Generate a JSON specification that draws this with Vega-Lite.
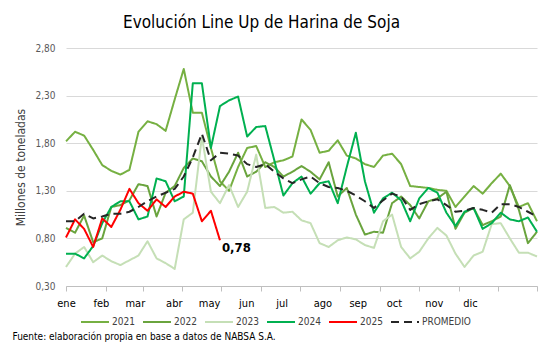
{
  "$schema": "https://vega.github.io/schema/vega-lite/v6.json",
  "width": 471,
  "height": 238,
  "autosize": {"type": "none"},
  "padding": {"left": 66, "top": 48, "right": 17, "bottom": 66},
  "background": "white",
  "config": {
    "font": "DejaVu Sans Condensed, DejaVu Sans, sans-serif",
    "view": {"stroke": null},
    "locale": {"number": {"decimal": ",", "thousands": ".", "grouping": [3], "currency": ["$", ""]}}
  },
  "title": {
    "text": "Evolución Line Up de Harina de Soja",
    "fontSize": 17,
    "fontWeight": "normal",
    "color": "#000000",
    "anchor": "middle",
    "dx": -40,
    "baseline": "bottom",
    "offset": -6
  },
  "data": {
    "values": [
      {"w":1,"2021":1.82,"2022":0.91,"2023":0.50,"2024":0.64,"2025":0.81,"PROMEDIO":0.98},
      {"w":2,"2021":1.92,"2022":0.86,"2023":0.64,"2024":0.64,"2025":1.00,"PROMEDIO":0.98},
      {"w":3,"2021":1.88,"2022":1.04,"2023":0.71,"2024":0.59,"2025":0.90,"PROMEDIO":1.06},
      {"w":4,"2021":1.73,"2022":0.76,"2023":0.55,"2024":0.72,"2025":0.71,"PROMEDIO":1.01},
      {"w":5,"2021":1.57,"2022":0.80,"2023":0.62,"2024":0.96,"2025":1.01,"PROMEDIO":1.03},
      {"w":6,"2021":1.51,"2022":1.13,"2023":0.56,"2024":1.13,"2025":0.92,"PROMEDIO":1.06},
      {"w":7,"2021":1.47,"2022":1.15,"2023":0.52,"2024":1.19,"2025":1.10,"PROMEDIO":1.06},
      {"w":8,"2021":1.52,"2022":1.20,"2023":0.57,"2024":1.19,"2025":1.32,"PROMEDIO":1.08},
      {"w":9,"2021":1.92,"2022":1.37,"2023":0.62,"2024":1.00,"2025":1.17,"PROMEDIO":1.13},
      {"w":10,"2021":2.03,"2022":1.35,"2023":0.77,"2024":1.03,"2025":1.09,"PROMEDIO":1.19},
      {"w":11,"2021":2.00,"2022":1.03,"2023":0.59,"2024":1.43,"2025":1.21,"PROMEDIO":1.24},
      {"w":12,"2021":1.93,"2022":1.28,"2023":0.54,"2024":1.40,"2025":1.13,"PROMEDIO":1.28},
      {"w":13,"2021":2.26,"2022":1.35,"2023":0.48,"2024":1.19,"2025":1.24,"PROMEDIO":1.32},
      {"w":14,"2021":2.58,"2022":1.54,"2023":1.00,"2024":1.24,"2025":1.29,"PROMEDIO":1.45},
      {"w":15,"2021":2.12,"2022":1.64,"2023":1.07,"2024":2.43,"2025":1.27,"PROMEDIO":1.65},
      {"w":16,"2021":2.12,"2022":1.61,"2023":1.87,"2024":2.43,"2025":0.98,"PROMEDIO":1.90},
      {"w":17,"2021":1.75,"2022":1.45,"2023":1.29,"2024":1.75,"2025":1.09,"PROMEDIO":1.62},
      {"w":18,"2021":1.40,"2022":1.35,"2023":1.17,"2024":2.19,"2025":0.78,"PROMEDIO":1.70},
      {"w":19,"2021":1.30,"2022":1.50,"2023":1.36,"2024":2.25,"2025":null,"PROMEDIO":1.69},
      {"w":20,"2021":1.55,"2022":1.70,"2023":1.13,"2024":2.29,"2025":null,"PROMEDIO":1.67},
      {"w":21,"2021":1.75,"2022":1.45,"2023":1.29,"2024":1.87,"2025":null,"PROMEDIO":1.58},
      {"w":22,"2021":1.77,"2022":1.50,"2023":1.68,"2024":1.97,"2025":null,"PROMEDIO":1.55},
      {"w":23,"2021":1.55,"2022":1.60,"2023":1.12,"2024":1.98,"2025":null,"PROMEDIO":1.58},
      {"w":24,"2021":1.60,"2022":1.55,"2023":1.13,"2024":1.62,"2025":null,"PROMEDIO":1.50},
      {"w":25,"2021":1.62,"2022":1.45,"2023":1.07,"2024":1.25,"2025":null,"PROMEDIO":1.43},
      {"w":26,"2021":1.66,"2022":1.50,"2023":1.08,"2024":1.38,"2025":null,"PROMEDIO":1.38},
      {"w":27,"2021":2.05,"2022":1.56,"2023":0.99,"2024":1.45,"2025":null,"PROMEDIO":1.42},
      {"w":28,"2021":1.94,"2022":1.50,"2023":0.96,"2024":1.27,"2025":null,"PROMEDIO":1.45},
      {"w":29,"2021":1.70,"2022":1.42,"2023":0.75,"2024":1.38,"2025":null,"PROMEDIO":1.38},
      {"w":30,"2021":1.72,"2022":1.60,"2023":0.71,"2024":1.40,"2025":null,"PROMEDIO":1.34},
      {"w":31,"2021":1.83,"2022":1.24,"2023":0.78,"2024":1.17,"2025":null,"PROMEDIO":1.33},
      {"w":32,"2021":1.67,"2022":1.33,"2023":0.81,"2024":1.55,"2025":null,"PROMEDIO":1.30},
      {"w":33,"2021":1.64,"2022":1.05,"2023":0.79,"2024":1.91,"2025":null,"PROMEDIO":1.25},
      {"w":34,"2021":1.58,"2022":0.84,"2023":0.73,"2024":1.40,"2025":null,"PROMEDIO":1.19},
      {"w":35,"2021":1.55,"2022":0.87,"2023":0.70,"2024":1.07,"2025":null,"PROMEDIO":1.12},
      {"w":36,"2021":1.67,"2022":0.86,"2023":0.98,"2024":1.22,"2025":null,"PROMEDIO":1.20},
      {"w":37,"2021":1.69,"2022":1.17,"2023":1.05,"2024":1.28,"2025":null,"PROMEDIO":1.27},
      {"w":38,"2021":1.58,"2022":1.24,"2023":0.71,"2024":1.20,"2025":null,"PROMEDIO":1.24},
      {"w":39,"2021":1.35,"2022":1.15,"2023":0.59,"2024":0.98,"2025":null,"PROMEDIO":1.10},
      {"w":40,"2021":1.34,"2022":1.01,"2023":0.66,"2024":1.22,"2025":null,"PROMEDIO":1.16},
      {"w":41,"2021":1.33,"2022":1.19,"2023":0.80,"2024":1.33,"2025":null,"PROMEDIO":1.19},
      {"w":42,"2021":1.31,"2022":1.22,"2023":0.91,"2024":1.28,"2025":null,"PROMEDIO":1.21},
      {"w":43,"2021":1.30,"2022":1.29,"2023":0.83,"2024":1.07,"2025":null,"PROMEDIO":1.15},
      {"w":44,"2021":1.13,"2022":0.90,"2023":0.64,"2024":0.93,"2025":null,"PROMEDIO":1.08},
      {"w":45,"2021":1.24,"2022":1.07,"2023":0.50,"2024":1.08,"2025":null,"PROMEDIO":1.09},
      {"w":46,"2021":1.35,"2022":1.12,"2023":0.62,"2024":1.12,"2025":null,"PROMEDIO":1.12},
      {"w":47,"2021":1.27,"2022":0.94,"2023":0.66,"2024":0.90,"2025":null,"PROMEDIO":1.10},
      {"w":48,"2021":1.38,"2022":0.98,"2023":0.95,"2024":0.96,"2025":null,"PROMEDIO":1.07},
      {"w":49,"2021":1.48,"2022":1.03,"2023":0.96,"2024":1.07,"2025":null,"PROMEDIO":1.16},
      {"w":50,"2021":1.35,"2022":1.36,"2023":0.80,"2024":1.00,"2025":null,"PROMEDIO":1.16},
      {"w":51,"2021":1.13,"2022":1.10,"2023":0.65,"2024":0.98,"2025":null,"PROMEDIO":1.13},
      {"w":52,"2021":1.17,"2022":0.75,"2023":0.65,"2024":1.02,"2025":null,"PROMEDIO":1.08},
      {"w":53,"2021":0.98,"2022":0.87,"2023":0.61,"2024":0.87,"2025":null,"PROMEDIO":1.03}
    ]
  },
  "transform": [
    {"fold": ["2021", "2022", "2023", "2024", "2025", "PROMEDIO"], "as": ["serie", "value"]},
    {"filter": "datum.value != null"}
  ],
  "resolve": {"axis": {"x": "independent"}},
  "layer": [
    {
      "mark": {"type": "line", "strokeCap": "butt", "strokeJoin": "round"},
      "encoding": {
        "x": {
          "field": "w", "type": "quantitative",
          "scale": {"domain": [1, 53], "nice": false, "zero": false},
          "axis": {
            "orient": "bottom",
            "values": [1, 5.4, 9.5, 13.8, 18.1, 22.5, 26.8, 31.2, 35.7, 40, 44.4, 48.7, 53],
            "labels": false, "grid": false,
            "domain": true, "domainColor": "#bfbfbf", "domainWidth": 1,
            "ticks": true, "tickColor": "#bfbfbf", "tickSize": 5, "tickWidth": 1,
            "title": "Fuente: elaboración propia en base a datos de NABSA S.A.",
            "titleFontSize": 10, "titleFontWeight": "normal", "titleColor": "#000000",
            "titleAlign": "left", "titleBaseline": "alphabetic", "titleAnchor": "start",
            "titleX": -54, "titleY": 53
          }
        },
        "y": {
          "field": "value", "type": "quantitative",
          "scale": {"domain": [0.3, 2.8], "nice": false, "zero": false},
          "axis": {
            "values": [0.3, 0.8, 1.3, 1.8, 2.3, 2.8],
            "format": ".2f",
            "grid": true, "gridColor": "#d9d9d9", "gridWidth": 1,
            "domain": false, "ticks": false,
            "labelFontSize": 10, "labelColor": "#595959", "labelPadding": 11,
            "title": "Millones de toneladas",
            "titleFontSize": 12, "titleFontWeight": "normal", "titleColor": "#404040",
            "titlePadding": 7
          }
        },
        "color": {
          "field": "serie", "type": "nominal",
          "scale": {
            "domain": ["2021", "2022", "2023", "2024", "2025", "PROMEDIO"],
            "range": ["#76B042", "#6AA43E", "#C5DFB6", "#00B050", "#FF0000", "#262626"]
          },
          "legend": {
            "orient": "none", "legendX": 14, "legendY": 259,
            "direction": "horizontal", "columns": 6, "title": null,
            "symbolType": "stroke", "symbolSize": 784,
            "labelFontSize": 10, "labelColor": "#404040", "labelOffset": 2,
            "columnPadding": 4, "padding": 0
          }
        },
        "strokeDash": {
          "field": "serie", "type": "nominal",
          "scale": {
            "domain": ["2021", "2022", "2023", "2024", "2025", "PROMEDIO"],
            "range": [[1, 0], [1, 0], [1, 0], [1, 0], [1, 0], [8, 5]]
          }
        },
        "strokeWidth": {
          "field": "serie", "type": "nominal",
          "scale": {
            "domain": ["2021", "2022", "2023", "2024", "2025", "PROMEDIO"],
            "range": [2, 2, 2, 3, 3, 3.5]
          }
        }
      }
    },
    {
      "transform": [{"filter": "datum.serie == '2025' && datum.w == 18"}],
      "mark": {"type": "text", "align": "left", "baseline": "top", "dx": 2, "dy": 2, "fontSize": 13, "fontWeight": "bold", "color": "#000000"},
      "encoding": {
        "x": {
          "field": "w", "type": "quantitative",
          "axis": {
            "orient": "bottom",
            "values": [1, 4.86, 8.6, 12.9, 16.8, 20.9, 24.8, 29.3, 33.2, 37.2, 41.6, 45.6],
            "labelExpr": "['ene','feb','mar','abr','may','jun','jul','ago','sep','oct','nov','dic'][indexof([1, 4.86, 8.6, 12.9, 16.8, 20.9, 24.8, 29.3, 33.2, 37.2, 41.6, 45.6], datum.value)]",
            "ticks": false, "domain": false, "grid": false,
            "labelFontSize": 11, "labelColor": "#000000", "labelPadding": 11,
            "labelFlush": false, "labelOverlap": false,
            "title": null
          }
        },
        "y": {"field": "value", "type": "quantitative"},
        "text": {"field": "value", "type": "quantitative", "format": ".2f"}
      }
    }
  ]
}
